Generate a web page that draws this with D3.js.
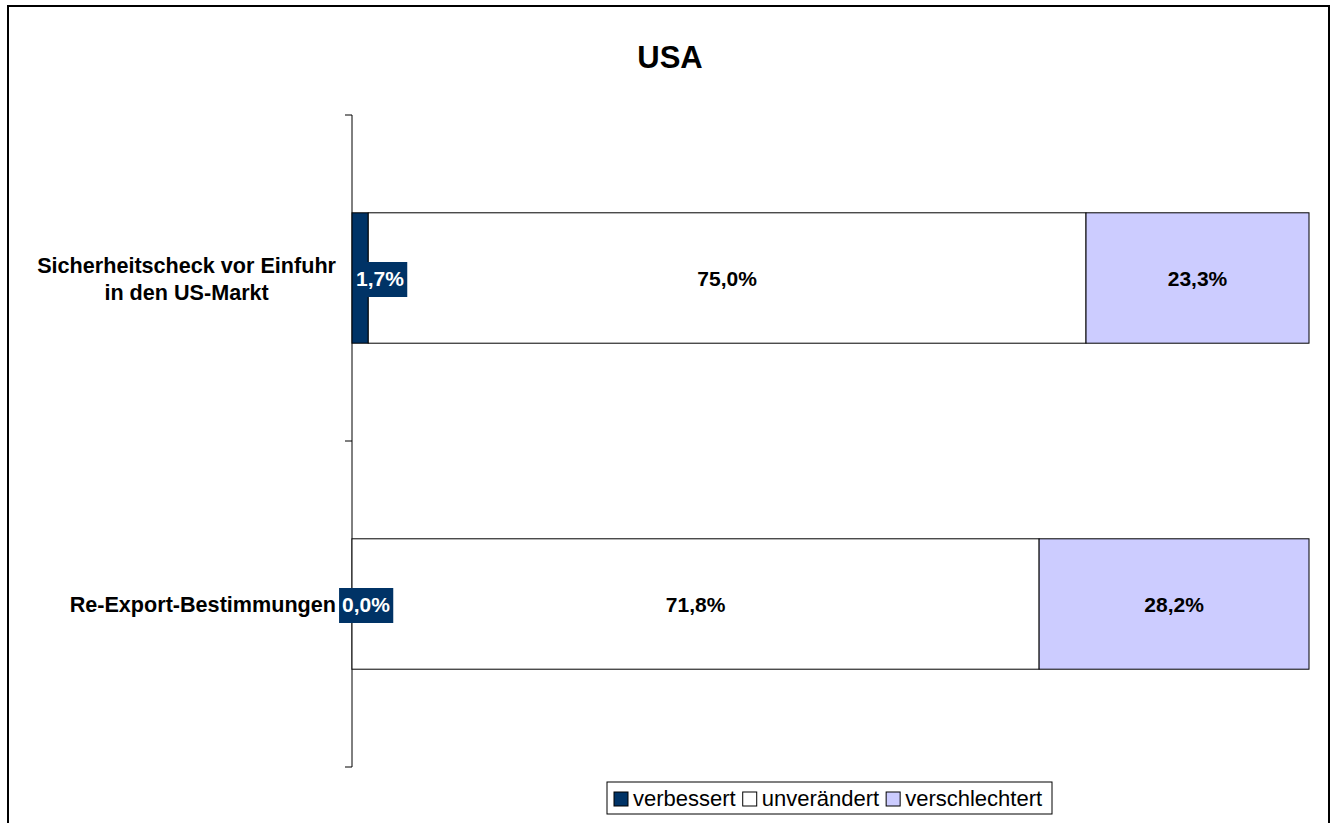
<!DOCTYPE html>
<html>
<head>
<meta charset="utf-8">
<script src="https://cdn.jsdelivr.net/npm/d3@7"></script>
<style>
  body { margin: 0; background: #fff; }
  text { font-family: Arial, "Liberation Sans", sans-serif; }
</style>
</head>
<body>
<div id="chart"></div>
<script>
// data
var categories = [["Sicherheitscheck vor Einfuhr", "in den US-Markt"], ["Re-Export-Bestimmungen"]];
var seriesNames = ["verbessert", "unverändert", "verschlechtert"];
var verbessert = [1.7, 0.0];
var unveraendert = [75.0, 71.8];
var verschlechtert = [23.3, 28.2];
var colors = ["#003366", "#ffffff", "#ccccff"];

var W = 1337, H = 823;
var svg = d3.select("#chart").append("svg")
    .attr("width", W).attr("height", H);

// outer frame
svg.append("rect")
    .attr("x", 8).attr("y", 6).attr("width", 1321).attr("height", 830)
    .attr("fill", "#fff").attr("stroke", "#000").attr("stroke-width", 2);

svg.append("text")
    .attr("x", 670).attr("y", 68)
    .attr("text-anchor", "middle")
    .style("font-size", "31px").style("font-weight", "bold")
    .text("USA");

var plot = {left: 352, right: 1309, top: 115, bottom: 767};

var x = d3.scaleLinear().domain([0, 100]).range([plot.left, plot.right]);
var yBand = d3.scaleBand().domain([0, 1]).range([plot.top, plot.bottom]);
var barH = yBand.bandwidth() * 0.4;
function barY(i) { return yBand(i) + (yBand.bandwidth() - barH) / 2; }

// build stack table
var table = categories.map(function(c, i) {
  return {i: i, verbessert: verbessert[i], "unverändert": unveraendert[i], verschlechtert: verschlechtert[i]};
});
var stacked = d3.stack().keys(seriesNames)(table);

// category axis
var axis = svg.append("g").attr("transform", "translate(" + plot.left + ",0)");
axis.append("line")
    .attr("y1", plot.top).attr("y2", plot.bottom)
    .attr("stroke", "#000");
var ticks = [plot.top].concat(categories.map(function(c, i) { return yBand(i) + yBand.bandwidth(); }));
axis.selectAll(".tk").data(ticks).enter().append("line")
    .attr("x1", -7).attr("x2", 0)
    .attr("y1", function(d) { return d; }).attr("y2", function(d) { return d; })
    .attr("stroke", "#000");

// bars
stacked.forEach(function(layer, k) {
  svg.selectAll(".s" + k).data(layer).enter().append("rect")
      .attr("x", function(d) { return x(d[0]); })
      .attr("y", function(d) { return barY(d.data.i); })
      .attr("width", function(d) { return x(d[1]) - x(d[0]); })
      .attr("height", barH)
      .attr("fill", colors[k])
      .attr("stroke", "#000").attr("stroke-width", 1);
});

// value labels
function fmt(v) { return v.toFixed(1).replace(".", ",") + "%"; }
stacked.forEach(function(layer, k) {
  layer.forEach(function(d) {
    var cy = barY(d.data.i) + barH / 2;
    var v = d[1] - d[0];
    var g = svg.append("g");
    var cx = k === 0 ? x(d[0]) + (v > 0 ? 28 : 14) : x((d[0] + d[1]) / 2);
    var t = g.append("text")
        .attr("x", cx).attr("y", cy + 8)
        .attr("text-anchor", "middle")
        .style("font-size", "21px").style("font-weight", "bold")
        .attr("fill", k === 0 ? "#fff" : "#000")
        .text(fmt(v));
    if (k === 0) {
      var bb = t.node().getBBox();
      g.insert("rect", "text")
          .attr("x", bb.x - 3).attr("y", cy - 16)
          .attr("width", bb.width + 6).attr("height", 35)
          .attr("fill", colors[0]);
    }
  });
});

// category labels: lines centered in a block right-aligned to the axis
categories.forEach(function(lines, i) {
  var cy = barY(i) + barH / 2;
  var g = svg.append("g");
  var n = lines.length;
  var texts = lines.map(function(l, j) {
    return g.append("text")
        .attr("y", cy + 8 + (j - (n - 1) / 2) * 27)
        .style("font-size", "21.6px").style("font-weight", "bold")
        .attr("text-anchor", "middle")
        .text(l);
  });
  var maxW = d3.max(texts, function(t) { return t.node().getComputedTextLength(); });
  texts.forEach(function(t) { t.attr("x", 336 - maxW / 2); });
});

// legend
var leg = svg.append("g");
leg.append("rect")
    .attr("x", 607).attr("y", 782).attr("width", 445).attr("height", 32)
    .attr("fill", "#fff").attr("stroke", "#000");
var lx = 614;
seriesNames.forEach(function(s, k) {
  leg.append("rect")
      .attr("x", lx).attr("y", 792).attr("width", 14).attr("height", 14)
      .attr("fill", colors[k]).attr("stroke", "#000");
  var t = leg.append("text")
      .attr("x", lx + 19).attr("y", 806)
      .style("font-size", "22px")
      .text(s);
  lx += 19 + t.node().getComputedTextLength() + 7;
});
</script>
</body>
</html>
